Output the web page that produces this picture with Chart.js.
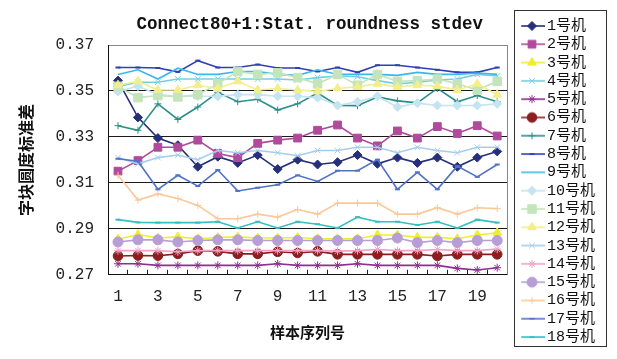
<!DOCTYPE html>
<html><head><meta charset="utf-8">
<script src="https://cdn.jsdelivr.net/npm/chart.js@4/dist/chart.umd.min.js"></script>
<style>html,body{margin:0;padding:0;background:#fff;}#wrap{width:617px;height:359px;}</style>
</head><body><div id="wrap"><canvas id="c" width="617" height="359"></canvas></div>
<script>
// ---- data ----
const categories = ['1','2','3','4','5','6','7','8','9','10','11','12','13','14','15','16','17','18','19','20'];
const yTicks = [0.27, 0.29, 0.31, 0.33, 0.35, 0.37];
const seriesNames = ['1号机','2号机','3号机','4号机','5号机','6号机','7号机','8号机','9号机','10号机','11号机','12号机','13号机','14号机','15号机','16号机','17号机','18号机'];
const m1  = [0.3545,0.3385,0.3295,0.3264,0.3170,0.3214,0.3187,0.3221,0.3160,0.3201,0.3180,0.3190,0.3221,0.3183,0.3210,0.3187,0.3210,0.3170,0.3210,0.3237];
const m2  = [0.3151,0.3197,0.3255,0.3255,0.3286,0.3228,0.3210,0.3272,0.3286,0.3295,0.3329,0.3352,0.3295,0.3261,0.3326,0.3295,0.3345,0.3315,0.3349,0.3304];
const m3  = [0.2855,0.2875,0.2860,0.2865,0.2857,0.2862,0.2865,0.2860,0.2860,0.2862,0.2857,0.2857,0.2857,0.2873,0.2873,0.2863,0.2863,0.2857,0.2873,0.2883];
const m4  = [0.3520,0.3538,0.3538,0.3552,0.3552,0.3552,0.3552,0.3552,0.3552,0.3548,0.3558,0.3565,0.3562,0.3545,0.3531,0.3538,0.3548,0.3552,0.3572,0.3565];
const m5  = [0.2748,0.2748,0.2741,0.2741,0.2741,0.2741,0.2741,0.2741,0.2748,0.2741,0.2741,0.2741,0.2748,0.2741,0.2741,0.2741,0.2741,0.2728,0.2721,0.2731];
const m6  = [0.2782,0.2784,0.2783,0.2791,0.2805,0.2802,0.2791,0.2791,0.2800,0.2795,0.2802,0.2789,0.2789,0.2789,0.2789,0.2789,0.2782,0.2789,0.2789,0.2789];
const m7  = [0.3349,0.3329,0.3444,0.3376,0.3430,0.3494,0.3453,0.3464,0.3417,0.3444,0.3491,0.3437,0.3436,0.3474,0.3457,0.3448,0.3511,0.3453,0.3480,0.3453];
const m8  = [0.3602,0.3602,0.3600,0.3583,0.3632,0.3602,0.3602,0.3615,0.3600,0.3600,0.3585,0.3602,0.3581,0.3612,0.3612,0.3602,0.3592,0.3581,0.3581,0.3602];
const m9  = [0.3572,0.3592,0.3552,0.3599,0.3572,0.3572,0.3585,0.3585,0.3572,0.3568,0.3592,0.3572,0.3572,0.3572,0.3568,0.3581,0.3572,0.3572,0.3578,0.3572];
const m10 = [0.3498,0.3521,0.3484,0.3477,0.3477,0.3477,0.3484,0.3484,0.3477,0.3477,0.3471,0.3437,0.3453,0.3477,0.3430,0.3447,0.3437,0.3437,0.3437,0.3444];
const m11 = [0.3520,0.3471,0.3480,0.3474,0.3484,0.3531,0.3585,0.3572,0.3579,0.3558,0.3531,0.3572,0.3525,0.3572,0.3542,0.3545,0.3552,0.3531,0.3504,0.3542];
const m12 = [0.3525,0.3542,0.3504,0.3504,0.3525,0.3511,0.3542,0.3504,0.3511,0.3504,0.3498,0.3511,0.3518,0.3531,0.3518,0.3525,0.3521,0.3504,0.3531,0.3484];
const m13 = [0.3210,0.3183,0.3210,0.3221,0.3201,0.3241,0.3231,0.3241,0.3231,0.3218,0.3241,0.3241,0.3255,0.3255,0.3231,0.3255,0.3241,0.3231,0.3255,0.3255];
const m14 = [0.2805,0.2805,0.2805,0.2800,0.2805,0.2805,0.2805,0.2805,0.2805,0.2805,0.2805,0.2803,0.2805,0.2810,0.2805,0.2805,0.2810,0.2805,0.2805,0.2812];
const m15 = [0.2843,0.2852,0.2852,0.2843,0.2849,0.2852,0.2852,0.2849,0.2849,0.2849,0.2849,0.2849,0.2849,0.2849,0.2860,0.2840,0.2849,0.2840,0.2849,0.2849];
const m16 = [0.3133,0.3025,0.3052,0.3032,0.3002,0.2944,0.2944,0.2964,0.2951,0.2984,0.2964,0.3012,0.3012,0.3012,0.2964,0.2964,0.2992,0.2964,0.2992,0.2988];
const m17 = [0.3205,0.3194,0.3072,0.3133,0.3086,0.3156,0.3065,0.3079,0.3092,0.3133,0.3106,0.3153,0.3153,0.3201,0.3072,0.3146,0.3072,0.3173,0.3126,0.3180];
const m18 = [0.2940,0.2928,0.2927,0.2927,0.2927,0.2931,0.2904,0.2931,0.2904,0.2931,0.2920,0.2904,0.2951,0.2931,0.2931,0.2917,0.2931,0.2904,0.2940,0.2927];
const seriesValues = [m1,m2,m3,m4,m5,m6,m7,m8,m9,m10,m11,m12,m13,m14,m15,m16,m17,m18];

// ---- styles ----
const styles = [
  {color:'#26307a', point:'rectRot', r:4.5},
  {color:'#b04a9c', point:'rect',    r:5.5},
  {color:'#eeee2a', point:'triangle',r:5},
  {color:'#74cfe0', point:'crossRot',r:4},
  {color:'#8e2f8e', point:'star',    r:4},
  {color:'#8b1e1e', point:'circle',  r:4.8},
  {color:'#2b8f8a', point:'cross',   r:3.5},
  {color:'#3040b4', point:'line',    r:2.5, bw:2},
  {color:'#3cb8e8', point:false,     r:0},
  {color:'#c4e4f0', point:'rectRot', r:4.5},
  {color:'#c4e4bc', point:'rect',    r:6},
  {color:'#f2ee8c', point:'triangle',r:5},
  {color:'#a6cdee', point:'crossRot',r:4},
  {color:'#f4a0c8', point:'star',    r:4},
  {color:'#b89ed6', point:'circle',  r:5},
  {color:'#fcc898', point:'cross',   r:3.5},
  {color:'#5272c8', point:'line',    r:2.5, bw:2},
  {color:'#32c0c0', point:'line',    r:2.5, bw:2}
];
const MONO = "'Liberation Mono', 'Noto Sans CJK SC', monospace";
const CJK = "'Noto Sans CJK SC', sans-serif";

function legendIcon(st){
  const c = document.createElement('canvas');
  c.width = 26; c.height = 14;
  const ctx = c.getContext('2d');
  ctx.strokeStyle = st.color; ctx.lineWidth = 1.6;
  ctx.beginPath(); ctx.moveTo(0, 7); ctx.lineTo(26, 7); ctx.stroke();
  if (st.point && Chart.helpers && Chart.helpers.drawPoint) {
    ctx.fillStyle = st.color; ctx.strokeStyle = st.color; ctx.lineWidth = st.bw || 1;
    Chart.helpers.drawPoint(ctx, {pointStyle: st.point, radius: st.r, rotation: 0, borderWidth: st.bw || 1}, 13, 7);
  }
  return c;
}
const icons = styles.map(legendIcon);

const datasets = seriesValues.map((vals, i) => ({
  label: seriesNames[i],
  data: vals,
  borderColor: styles[i].color,
  backgroundColor: styles[i].color,
  borderWidth: 1.6,
  pointStyle: styles[i].point || 'circle',
  pointRadius: styles[i].point ? styles[i].r : 0,
  pointBackgroundColor: styles[i].color,
  pointBorderColor: styles[i].color,
  pointBorderWidth: styles[i].bw || 1,
  tension: 0,
  order: 17 - i,
  clip: false
}));

const framePlugin = {
  id: 'frame',
  afterDraw(chart) {
    const {ctx, chartArea: a, legend} = chart;
    ctx.save();
    ctx.strokeStyle = '#888'; ctx.lineWidth = 1;
    ctx.beginPath(); ctx.moveTo(Math.round(a.right) + 0.5, a.top); ctx.lineTo(Math.round(a.right) + 0.5, a.bottom); ctx.stroke();
    const hb = legend.legendHitBoxes;
    if (hb && hb.length) {
      const top = Math.min(...hb.map(h => h.top));
      const bottom = Math.max(...hb.map(h => h.top + h.height));
      const l = Math.round(legend.left - 7) + 0.5;
      const r = Math.round(legend.right + 1) + 0.5;
      const t = Math.round(top - 8) + 0.5;
      const b = Math.round(bottom + 1) + 0.5;
      ctx.strokeStyle = '#333';
      ctx.strokeRect(l, t, r - l, b - t);
    }
    ctx.restore();
  }
};

new Chart(document.getElementById('c'), {
  type: 'line',
  data: { labels: categories, datasets },
  plugins: [framePlugin],
  options: {
    responsive: false,
    devicePixelRatio: 1,
    animation: false,
    layout: { padding: { left: 14.4, right: 12, top: 4, bottom: 0 } },
    plugins: {
      title: {
        display: true, text: 'Connect80+1:Stat. roundness stdev', weight: 500,
        font: { family: MONO, size: 17.5, weight: 'bold' }, color: '#111',
        padding: { top: 10.5, bottom: 9.5 }
      },
      legend: {
        display: true, position: 'right', align: 'center',
        labels: {
          usePointStyle: true, pointStyleWidth: 15, padding: 3.3,
          font: { family: MONO, size: 15 }, color: '#111',
          generateLabels: (chart) => chart.data.datasets.map((ds, i) => ({
            text: ds.label, fillStyle: ds.borderColor, strokeStyle: ds.borderColor,
            lineWidth: 0, pointStyle: icons[i], hidden: false, datasetIndex: i, fontColor: '#111'
          }))
        }
      },
      tooltip: { enabled: false }
    },
    scales: {
      x: {
        type: 'category', offset: true,
        grid: { offset: true, drawOnChartArea: false, drawTicks: true, tickLength: -5, color: '#222', lineWidth: 1 },
        border: { color: '#111', width: 1 },
        ticks: {
          autoSkip: false, maxRotation: 0, minRotation: 0, padding: 17, color: '#222',
          font: { family: MONO, size: 16 },
          callback(v, i) { return i % 2 === 0 ? this.getLabelForValue(v) : ''; }
        },
        title: { display: true, text: '样本序列号', font: { family: CJK, size: 15, weight: 'bold' }, color: '#111', padding: { top: 0, bottom: 18 } }
      },
      y: {
        min: 0.27, max: 0.37,
        afterBuildTicks(s) { s.ticks = yTicks.map(v => ({ value: v })); },
        ticks: { padding: 19, color: '#222', font: { family: MONO, size: 16 }, callback: v => Number(v).toFixed(2) },
        grid: { color: (c) => (c.tick && Math.abs(c.tick.value - 0.37) < 1e-6) ? '#888' : '#1a1a1a', lineWidth: 1, drawTicks: true, tickLength: -5 },
        border: { color: '#111', width: 1 },
        title: { display: true, text: '字块圆度标准差', font: { family: CJK, size: 16, weight: 'bold' }, color: '#111', padding: { top: 1.5, bottom: 1.5 } }
      },
      gap: {
        type: 'linear', position: 'right', display: true,
        grid: { display: false, drawTicks: false }, border: { display: false },
        ticks: { display: false },
        afterFit(s) { s.width = 14; }
      }
    }
  }
});
</script>
</body></html>
